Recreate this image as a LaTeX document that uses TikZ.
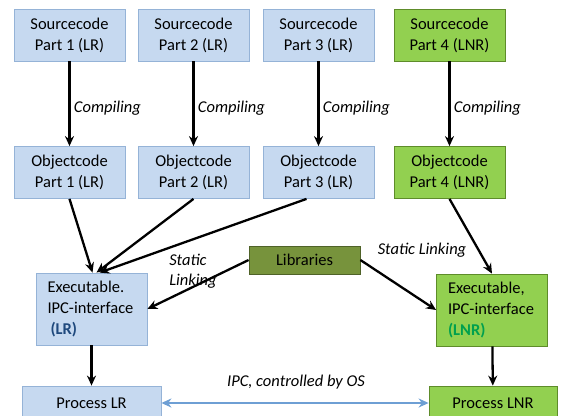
\documentclass[tikz,border=0pt]{standalone}
\usepackage{fontspec}
\setmainfont{Carlito}
\usepackage{xcolor}
\usetikzlibrary{arrows.meta,calc}
\definecolor{lrfill}{HTML}{C6D9F0}
\definecolor{lrline}{HTML}{95B3D7}
\definecolor{lnrfill}{HTML}{92D050}
\definecolor{lnrline}{HTML}{5E8C2A}
\definecolor{libfill}{HTML}{77933C}
\definecolor{libline}{HTML}{4F6228}
\definecolor{ipcblue}{HTML}{6E9FD4}
\definecolor{lrtext}{HTML}{1F497D}
\definecolor{lnrtext}{HTML}{00A04E}

\begin{document}
\begin{tikzpicture}[x=1pt,y=-1pt,
        font=\fontsize{16.5}{21}\selectfont,
        box/.style={draw,line width=0.8pt,minimum width=111pt,minimum height=52pt,inner sep=0pt,align=center},
        lrbox/.style={box,draw=lrline,fill=lrfill},
        lnrbox/.style={box,draw=lnrline,fill=lnrfill},
        exbox/.style={minimum height=72pt,align=left,text width=88pt,inner xsep=11.5pt},
        arr/.style={-{Stealth[length=10pt,width=9pt]},line width=2.3pt},
        lbl/.style={font=\fontsize{16.5}{20}\selectfont\itshape}]
        \useasboundingbox (0,0) rectangle (561,415);
        \clip (0,0) rectangle (561,415);
        % source and object code
        \coordinate (S1) at (69.5,35);
        \coordinate (S2) at (193.5,35);
        \coordinate (S3) at (318.5,35);
        \coordinate (S4) at (449.5,35);
        \coordinate (O1) at (69.5,172.5);
        \coordinate (O2) at (193.5,172.5);
        \coordinate (O3) at (318.5,172.5);
        \coordinate (O4) at (449.5,172.5);
        \node[lrbox] (src1) at (S1) {Sourcecode\\Part 1 (LR)};
        \node[lrbox] (src2) at (S2) {Sourcecode\\Part 2 (LR)};
        \node[lrbox] (src3) at (S3) {Sourcecode\\Part 3 (LR)};
        \node[lnrbox] (src4) at (S4) {Sourcecode\\Part 4 (LNR)};
        \node[lrbox] (obj1) at (O1) {Objectcode\\Part 1 (LR)};
        \node[lrbox] (obj2) at (O2) {Objectcode\\Part 2 (LR)};
        \node[lrbox] (obj3) at (O3) {Objectcode\\Part 3 (LR)};
        \node[lnrbox] (obj4) at (O4) {Objectcode\\Part 4 (LNR)};
        % linking
        \coordinate (XL) at (91.5,309);
        \coordinate (XN) at (492,310);
        \coordinate (L) at (304.5,260);
        \node[lrbox,exbox] (exlr) at (XL) {Executable.\\IPC-interface\\\hspace{3pt}\textbf{\color{lrtext}(LR)}};
        \node[lnrbox,exbox] (exlnr) at (XN) {Executable,\\IPC-interface\\\textbf{\color{lnrtext}(LNR)}};
        \node[box,draw=libline,fill=libfill,minimum height=28pt] (libs) at (L) {Libraries};
        % processes
        \node[lrbox,minimum width=139pt,minimum height=34pt] (prlr) at (91.5,403) {Process LR};
        \node[lnrbox,minimum width=128pt,minimum height=34pt] (prlnr) at (493,403) {Process LNR};
        \begin{scope}[arr]
            \draw (src1) -- node[right,lbl,yshift=-4pt] {Compiling} (obj1);
            \draw (src2) -- node[right,lbl,yshift=-4pt] {Compiling} (obj2);
            \draw (src3) -- node[right,lbl,yshift=-4pt] {Compiling} (obj3);
            \draw (src4) -- node[right,lbl,yshift=-4pt] {Compiling} (obj4);
            \draw (obj1.south) -- ([xshift=1pt]exlr.north);
            \draw (obj2.south) -- ([xshift=5pt]exlr.north);
            \draw ([xshift=-12pt]obj3.south) -- ([xshift=8pt]exlr.north);
            \draw (obj4.south) -- (exlnr.north);
            \draw (libs.west) -- (exlr.east);
            \draw (libs.east) -- (exlnr.west);
            \draw (exlr) -- (prlr);
            \draw (exlnr) -- (prlnr);
        \end{scope}
        \draw[{Stealth[length=10pt,width=9pt]}-{Stealth[length=10pt,width=9pt]},line width=2.6pt,ipcblue] (prlr.east) -- (prlnr.west);
        \node[lbl,align=left] at (193,271) {Static\\Linking};
        \node[lbl] at (422,250) {Static Linking};
        \node[lbl] at (296,382) {IPC, controlled by OS};
\end{tikzpicture}
\end{document}
